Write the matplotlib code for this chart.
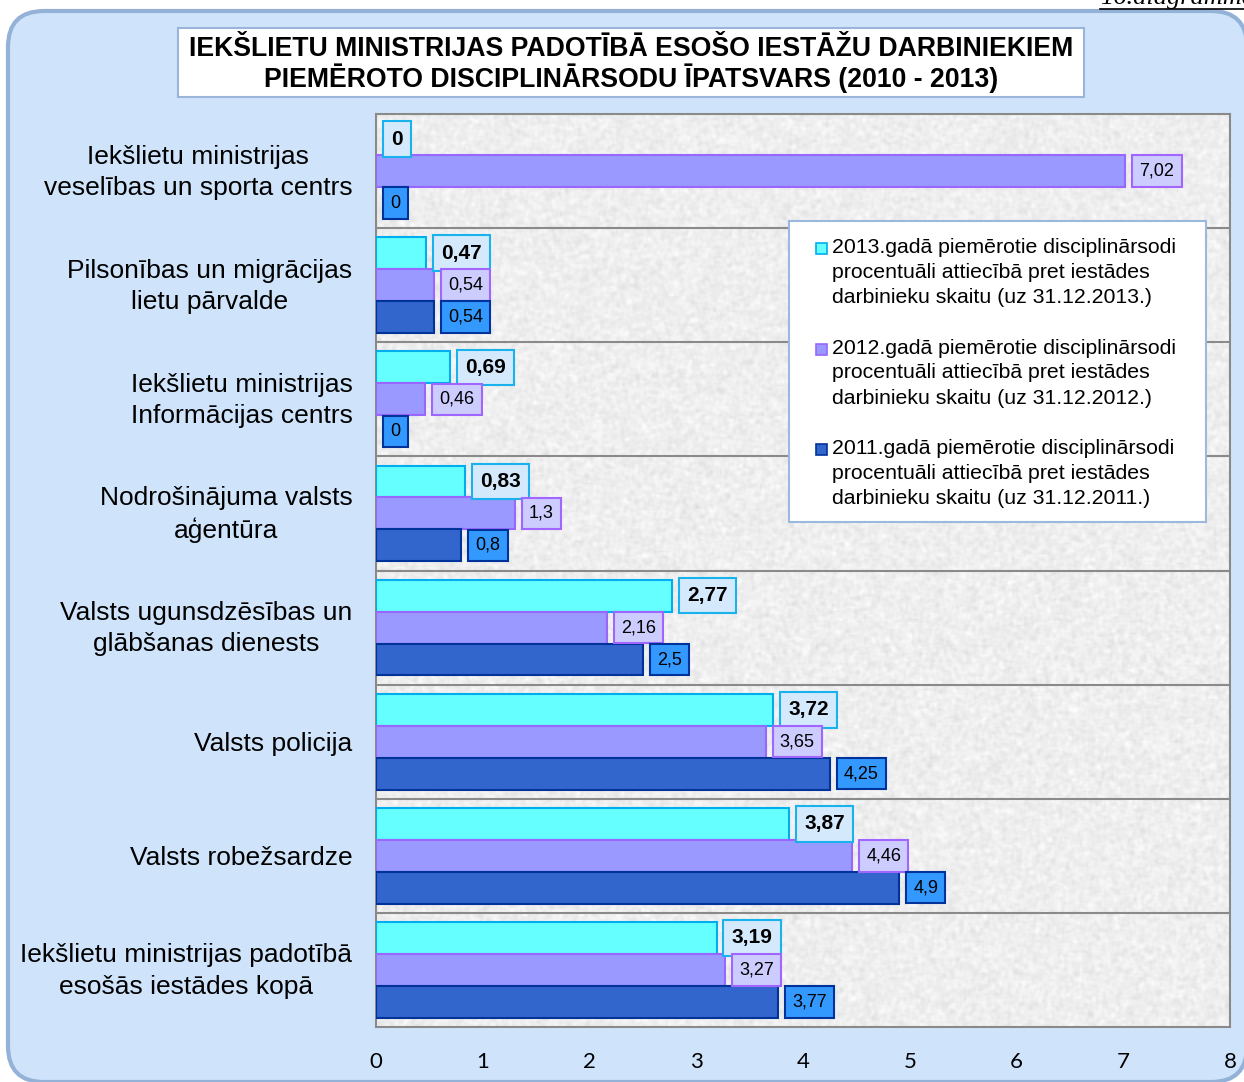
import numpy as np
import matplotlib
matplotlib.use("Agg")
import matplotlib.pyplot as plt
from matplotlib.patches import FancyBboxPatch, Rectangle
from matplotlib.lines import Line2D
from matplotlib.transforms import IdentityTransform, ScaledTranslation

plt.rcParams["font.family"] = ["Liberation Sans", "DejaVu Sans"]

# ---------- data ----------
categories = [
    "Iekšlietu ministrijas\nveselības un sporta centrs",
    "Pilsonības un migrācijas\nlietu pārvalde",
    "Iekšlietu ministrijas\nInformācijas centrs",
    "Nodrošinājuma valsts\naģentūra",
    "Valsts ugunsdzēsības un\nglābšanas dienests",
    "Valsts policija",
    "Valsts robežsardze",
    "Iekšlietu ministrijas padotībā\nesošās iestādes kopā",
]
v2013 = [0, 0.47, 0.69, 0.83, 2.77, 3.72, 3.87, 3.19]
v2012 = [7.02, 0.54, 0.46, 1.3, 2.16, 3.65, 4.46, 3.27]
v2011 = [0, 0.54, 0, 0.8, 2.5, 4.25, 4.9, 3.77]
series_labels = [
    "2013.gadā piemērotie disciplinārsodi\nprocentuāli attiecībā pret iestādes\ndarbinieku skaitu (uz 31.12.2013.)",
    "2012.gadā piemērotie disciplinārsodi\nprocentuāli attiecībā pret iestādes\ndarbinieku skaitu (uz 31.12.2012.)",
    "2011.gadā piemērotie disciplinārsodi\nprocentuāli attiecībā pret iestādes\ndarbinieku skaitu (uz 31.12.2011.)",
]
title = ("IEKŠLIETU MINISTRIJAS PADOTĪBĀ ESOŠO IESTĀŽU DARBINIEKIEM\n"
         "PIEMĒROTO DISCIPLINĀRSODU ĪPATSVARS (2010 - 2013)")

# styles: bar face, bar edge, label face, label edge, bold label
styles = [
    ("#66ffff", "#00aeef", "#d4eafc", "#19b2ec", True),
    ("#9999ff", "#9966ff", "#ccccff", "#a066ff", False),
    ("#3366cc", "#003399", "#3399ff", "#003399", False),
]

W, H = 1244, 1082
fig = plt.figure(figsize=(W / 100, H / 100), dpi=100)
fig.patch.set_facecolor("white")
px = IdentityTransform()

# rounded light-blue panel
panel = FancyBboxPatch((8 + 36, 0 + 36), 1239 - 72, 1071 - 72,
                       boxstyle="round,pad=36", transform=px,
                       facecolor="#cfe4fb", edgecolor="#94b2d8", linewidth=3, zorder=-10)
fig.add_artist(panel)

ax = fig.add_axes([376 / W, 1 - 1027 / H, (1230 - 376) / W, (1027 - 114) / H])

# granite-like background texture
rng = np.random.default_rng(7)
noise = rng.normal(0, 1, (456, 427))
sm = (noise + 0.5 * (np.roll(noise, 1, 0) + np.roll(noise, -1, 0)
                     + np.roll(noise, 1, 1) + np.roll(noise, -1, 1))) / 2.2
tex = np.clip(0.935 + 0.028 * sm, 0.8, 1.0)
ax.imshow(tex, extent=(0, 1, 0, 1), transform=ax.transAxes, aspect="auto",
          cmap="gray", vmin=0, vmax=1, interpolation="bilinear", zorder=0)

y = np.arange(len(categories))
h = 0.28
offsets = [-h, 0, h]
for vals, off, (fc, ec, lfc, lec, bold) in zip([v2013, v2012, v2011], offsets, styles):
    lws = [1.5 if v > 0 else 0 for v in vals]
    ax.barh(y + off, vals, height=h, color=fc, edgecolor=ec, linewidth=lws, zorder=3)
    fs = 15 if bold else 13
    pad = 0.4
    for yi, v in zip(y, vals):
        txt = f"{v:g}".replace(".", ",")
        ax.annotate(txt, xy=(v, yi + off), xytext=(5 + pad * fs, 0), textcoords="offset points",
                    ha="left", va="center", fontsize=fs, fontweight="bold" if bold else "normal",
                    color="black", zorder=5, annotation_clip=False,
                    bbox=dict(boxstyle=f"square,pad={pad}", facecolor=lfc, edgecolor=lec, linewidth=1.5))

for b in y[:-1]:
    ax.axhline(b + 0.5, color="#8a8a8a", linewidth=1.5, zorder=2)

ax.set_xlim(0, 8)
ax.set_ylim(len(categories) - 0.5, -0.5)
ax.set_xticks(range(9))
ax.set_xticklabels([str(i) for i in range(9)], fontsize=16, family="Lato")
ax.set_yticks(y)
ax.set_yticklabels(categories, fontsize=19, multialignment="center", linespacing=1.38)
ax.tick_params(axis="x", length=0, pad=18)
ax.tick_params(axis="y", length=0, pad=17)
shift_up = ScaledTranslation(0, 5 / 100, fig.dpi_scale_trans)
for lab in ax.get_yticklabels():
    if "\n" in lab.get_text():
        lab.set_transform(lab.get_transform() + shift_up)
for s in ax.spines.values():
    s.set_color("#8a8a8a")
    s.set_linewidth(1.5)

# title box
fig.add_artist(Rectangle((178, H - 97), 906, 69, transform=px, facecolor="white",
                         edgecolor="#9bb5da", linewidth=1.5, zorder=4))
fig.text(631 / W, 1 - 64.5 / H, title, ha="center", va="center", fontsize=19.2,
         fontweight="bold", linespacing=1.06, zorder=5)

# legend
fig.add_artist(Rectangle((789, H - 522), 417, 301, transform=px, facecolor="white",
                         edgecolor="#9bb8de", linewidth=1.5, zorder=6))
for i, (lab, (fc, ec, _, _, _)) in enumerate(zip(series_labels, styles)):
    ty = 246 + i * 100.5
    fig.add_artist(Rectangle((816, H - ty - 8), 11, 11, transform=px, facecolor=fc,
                             edgecolor=ec, linewidth=1.2, zorder=7))
    fig.text(832 / W, 1 - (ty - 8) / H, lab, ha="left", va="top", fontsize=15.3,
             linespacing=1.4, zorder=7)

# clipped page caption at top right
fig.text(1100 / W, 1 - 4 / H, "16.diagramma", ha="left", va="baseline", fontsize=19,
         family="Liberation Serif", style="italic", zorder=8)
fig.add_artist(Line2D([1100, 1250], [H - 9, H - 9], transform=px, color="black",
                      linewidth=1.2, zorder=8))

fig.savefig("out.png", dpi=100, facecolor="white")
